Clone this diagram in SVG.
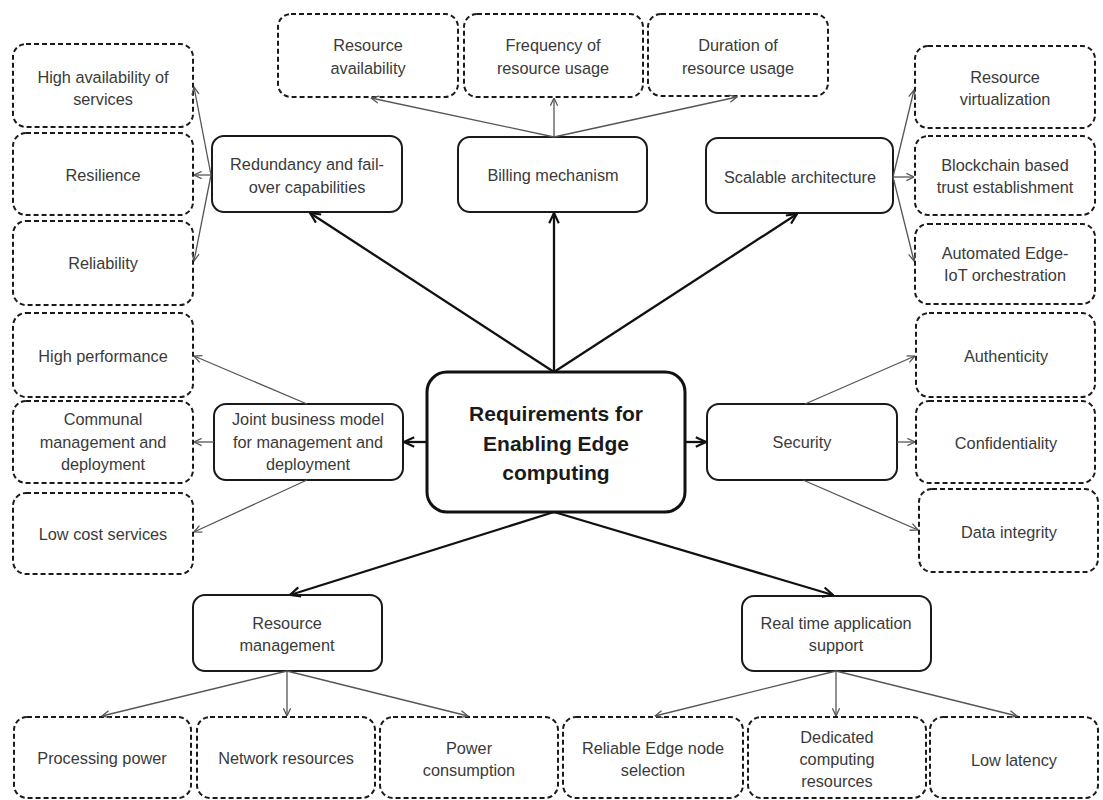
<svg xmlns="http://www.w3.org/2000/svg" width="1103" height="800" viewBox="0 0 1103 800">
<style>
.leaf{fill:#fff;stroke:#1a1a1a;stroke-width:2;stroke-dasharray:5 3}
.mid{fill:#fff;stroke:#1a1a1a;stroke-width:2}
.root{fill:#fff;stroke:#111;stroke-width:3}
.t{font-family:"Liberation Sans",Arial,sans-serif;font-size:16.3px;fill:#3a3a3a;text-anchor:middle;dominant-baseline:central}
.tb{font-family:"Liberation Sans",Arial,sans-serif;font-size:21px;font-weight:bold;fill:#1a1a1a;text-anchor:middle;dominant-baseline:central}
.thin{stroke:#555;stroke-width:1.3;fill:none;marker-end:url(#ah)}
.thick{stroke:#111;stroke-width:2.3;fill:none;marker-end:url(#ahb)}
</style>
<defs>
<marker id="ah" viewBox="0 0 10 10" refX="9.5" refY="5" markerWidth="9" markerHeight="9" markerUnits="userSpaceOnUse" orient="auto">
<path d="M1,1 L9.5,5 L1,9" fill="none" stroke="#555" stroke-width="1.4"/>
</marker>
<marker id="ahb" viewBox="0 0 10 10" refX="9.5" refY="5" markerWidth="12" markerHeight="12" markerUnits="userSpaceOnUse" orient="auto">
<path d="M1,1 L9.5,5 L1,9" fill="none" stroke="#111" stroke-width="1.8"/>
</marker>
</defs>
<rect width="1103" height="800" fill="#fff"/>

<g id="root"><rect class="root" x="427" y="372" width="258" height="140" rx="20"/>
<text class="tb" x="556" y="413">Requirements for</text><text class="tb" x="556" y="443">Enabling Edge</text><text class="tb" x="556" y="472">computing</text></g>

<g id="redundancy"><rect class="mid" x="212" y="136" width="190" height="76" rx="12"/><text class="t" x="307" y="164">Redundancy and fail-</text><text class="t" x="307" y="187">over capabilities</text></g>
<g id="billing"><rect class="mid" x="458" y="137" width="189" height="75" rx="12"/><text class="t" x="553" y="175">Billing mechanism</text></g>
<g id="scalable"><rect class="mid" x="706" y="138" width="187" height="75" rx="12"/><text class="t" x="800" y="177">Scalable architecture</text></g>
<g id="joint"><rect class="mid" x="214" y="404" width="189" height="76" rx="12"/><text class="t" x="308" y="419">Joint business model</text><text class="t" x="308" y="442">for management and</text><text class="t" x="308" y="464">deployment</text></g>
<g id="security"><rect class="mid" x="707" y="404" width="190" height="76" rx="12"/><text class="t" x="802" y="442">Security</text></g>
<g id="resmgmt"><rect class="mid" x="193" y="595" width="189" height="76" rx="12"/><text class="t" x="287" y="623">Resource</text><text class="t" x="287" y="645">management</text></g>
<g id="realtime"><rect class="mid" x="742" y="596" width="189" height="75" rx="12"/><text class="t" x="836" y="623">Real time application</text><text class="t" x="836" y="645">support</text></g>

<g id="res-avail"><rect class="leaf" x="278" y="14" width="180" height="83" rx="13"/><text class="t" x="368" y="45">Resource</text><text class="t" x="368" y="68">availability</text></g>
<g id="freq"><rect class="leaf" x="464" y="14" width="179" height="83" rx="13"/><text class="t" x="553" y="45">Frequency of</text><text class="t" x="553" y="68">resource usage</text></g>
<g id="duration"><rect class="leaf" x="648" y="14" width="180" height="82" rx="13"/><text class="t" x="738" y="45">Duration of</text><text class="t" x="738" y="68">resource usage</text></g>

<g id="high-avail"><rect class="leaf" x="13" y="44" width="180" height="83" rx="13"/><text class="t" x="103" y="77">High availability of</text><text class="t" x="103" y="99">services</text></g>
<g id="resilience"><rect class="leaf" x="13" y="133" width="180" height="82" rx="13"/><text class="t" x="103" y="175">Resilience</text></g>
<g id="reliability"><rect class="leaf" x="13" y="221" width="180" height="84" rx="13"/><text class="t" x="103" y="263">Reliability</text></g>
<g id="high-perf"><rect class="leaf" x="13" y="313" width="180" height="84" rx="13"/><text class="t" x="103" y="356">High performance</text></g>
<g id="communal"><rect class="leaf" x="13" y="401" width="180" height="82" rx="13"/><text class="t" x="103" y="419">Communal</text><text class="t" x="103" y="442">management and</text><text class="t" x="103" y="464">deployment</text></g>
<g id="low-cost"><rect class="leaf" x="13" y="493" width="180" height="81" rx="13"/><text class="t" x="103" y="534">Low cost services</text></g>

<g id="virtualization"><rect class="leaf" x="915" y="46" width="180" height="82" rx="13"/><text class="t" x="1005" y="77">Resource</text><text class="t" x="1005" y="99">virtualization</text></g>
<g id="blockchain"><rect class="leaf" x="915" y="136" width="180" height="79" rx="13"/><text class="t" x="1005" y="165">Blockchain based</text><text class="t" x="1005" y="187">trust establishment</text></g>
<g id="automated"><rect class="leaf" x="915" y="224" width="180" height="80" rx="13"/><text class="t" x="1005" y="253">Automated Edge-</text><text class="t" x="1005" y="275">IoT orchestration</text></g>
<g id="authenticity"><rect class="leaf" x="916" y="313" width="179" height="84" rx="13"/><text class="t" x="1006" y="356">Authenticity</text></g>
<g id="confidentiality"><rect class="leaf" x="916" y="401" width="179" height="82" rx="13"/><text class="t" x="1006" y="443">Confidentiality</text></g>
<g id="integrity"><rect class="leaf" x="919" y="489" width="179" height="83" rx="13"/><text class="t" x="1009" y="532">Data integrity</text></g>

<g id="processing"><rect class="leaf" x="14" y="717" width="177" height="81" rx="13"/><text class="t" x="102" y="758">Processing power</text></g>
<g id="network"><rect class="leaf" x="197" y="717" width="178" height="81" rx="13"/><text class="t" x="286" y="758">Network resources</text></g>
<g id="power"><rect class="leaf" x="380" y="717" width="178" height="81" rx="13"/><text class="t" x="469" y="748">Power</text><text class="t" x="469" y="770">consumption</text></g>
<g id="reliable-node"><rect class="leaf" x="563" y="717" width="180" height="81" rx="13"/><text class="t" x="653" y="748">Reliable Edge node</text><text class="t" x="653" y="770">selection</text></g>
<g id="dedicated"><rect class="leaf" x="748" y="717" width="178" height="81" rx="13"/><text class="t" x="837" y="737">Dedicated</text><text class="t" x="837" y="759">computing</text><text class="t" x="837" y="781">resources</text></g>
<g id="low-latency"><rect class="leaf" x="930" y="717" width="168" height="81" rx="13"/><text class="t" x="1014" y="760">Low latency</text></g>

<g id="connectors">
<line class="thick" x1="554" y1="372" x2="310" y2="213"/>
<line class="thick" x1="554" y1="372" x2="554" y2="213"/>
<line class="thick" x1="554" y1="372" x2="797" y2="214"/>
<line class="thick" x1="427" y1="442" x2="404" y2="442"/>
<line class="thick" x1="685" y1="442" x2="706" y2="442"/>
<line class="thick" x1="554" y1="512" x2="290" y2="595"/>
<line class="thick" x1="554" y1="512" x2="833" y2="595"/>

<line class="thin" x1="211" y1="175" x2="194" y2="87"/>
<line class="thin" x1="211" y1="175" x2="194" y2="175"/>
<line class="thin" x1="211" y1="175" x2="194" y2="261"/>
<line class="thin" x1="554" y1="137" x2="371" y2="98"/>
<line class="thin" x1="554" y1="137" x2="554" y2="98"/>
<line class="thin" x1="554" y1="137" x2="737" y2="97"/>
<line class="thin" x1="893" y1="177" x2="914" y2="90"/>
<line class="thin" x1="893" y1="177" x2="914" y2="177"/>
<line class="thin" x1="893" y1="177" x2="914" y2="261"/>
<line class="thin" x1="307" y1="404" x2="194" y2="356"/>
<line class="thin" x1="214" y1="442" x2="194" y2="442"/>
<line class="thin" x1="307" y1="480" x2="194" y2="532"/>
<line class="thin" x1="805" y1="404" x2="915" y2="356"/>
<line class="thin" x1="897" y1="442" x2="915" y2="442"/>
<line class="thin" x1="803" y1="480" x2="918" y2="530"/>
<line class="thin" x1="287" y1="671" x2="102" y2="716"/>
<line class="thin" x1="287" y1="671" x2="287" y2="716"/>
<line class="thin" x1="287" y1="671" x2="468" y2="716"/>
<line class="thin" x1="836" y1="671" x2="655" y2="716"/>
<line class="thin" x1="836" y1="671" x2="836" y2="716"/>
<line class="thin" x1="836" y1="671" x2="1017" y2="716"/>
</g>
</svg>
